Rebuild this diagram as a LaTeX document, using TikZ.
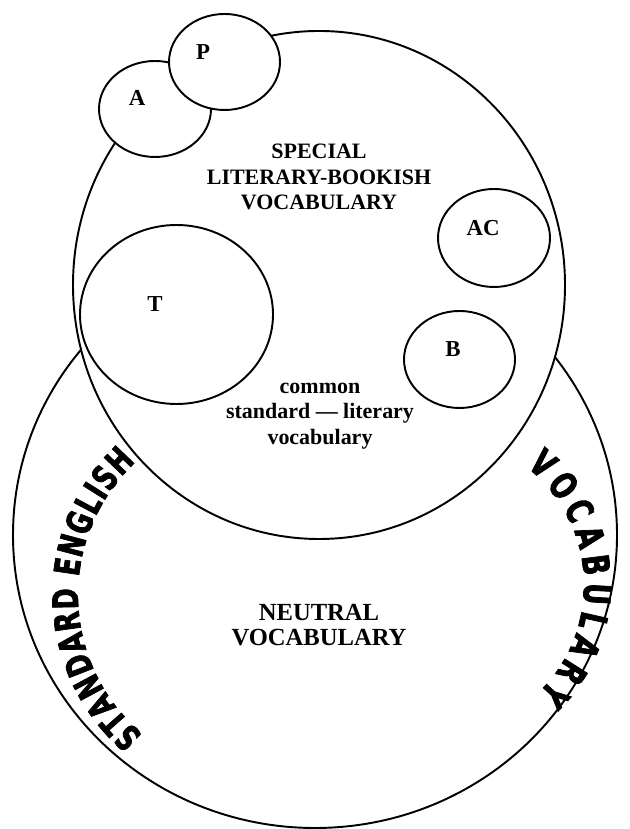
\documentclass[tikz,border=0pt]{standalone}
\usepackage{fontspec}
\setmainfont{Liberation Serif}
\newfontfamily\arcfont{DejaVu Sans Bold}[FakeStretch=0.72,FakeBold=2]
\usetikzlibrary{decorations.text}

\begin{document}
\begin{tikzpicture}[
  ring/.style={draw=black,fill=white,line width=1.1pt},
  letter/.style={font=\fontsize{13}{13}\selectfont\bfseries,inner sep=0pt},
  caption/.style={align=center,font=\fontsize{12.5}{14.5}\selectfont\bfseries,inner sep=0pt},
  neutral/.style={align=center,font=\fontsize{14}{14.5}\selectfont\bfseries,inner sep=0pt}
]
\useasboundingbox (0,0) rectangle (12.58,16.58);
%% Cercles
\draw[ring] (6.30,5.88)  ellipse [x radius=6.04, y radius=5.86];
\draw[ring] (6.38,10.88) ellipse [x radius=4.92, y radius=5.08];
\draw[ring] (3.10,14.40) ellipse [x radius=1.12, y radius=0.96];
\draw[ring] (4.49,15.34) ellipse [x radius=1.11, y radius=0.96];
\draw[ring] (9.88,11.82) ellipse [x radius=1.12, y radius=0.98];
\draw[ring] (9.19,9.39)  ellipse [x radius=1.11, y radius=0.97];
\draw[ring] (3.53,10.29) ellipse [x radius=1.93, y radius=1.79];
%% Lettres
\node[letter] (lA)  at (2.74,14.62) {A};
\node[letter] (lP)  at (4.06,15.54) {P};
\node[letter] (lAC) at (9.66,12.02) {AC};
\node[letter] (lB)  at (9.06,9.60)  {B};
\node[letter] (lT)  at (3.10,10.50) {T};
%% Textes
\node[caption] (special) at (6.38,13.04) {SPECIAL\\LITERARY-BOOKISH\\VOCABULARY};
\node[caption] (common)  at (6.40,8.26)  {common\\standard --- literary\\vocabulary};
\node[neutral] (neutral) at (6.38,4.08)  {NEUTRAL\\VOCABULARY};
%% Textes courbes
\path[decorate,decoration={text along path,text align={fit to path},
  text={|\arcfont\fontsize{20}{20}\selectfont|STANDARD ENGLISH}}]
  (5.20,4.68) ++(230:3.64) arc[start angle=230,end angle=133,radius=3.64];
\path[decorate,decoration={text along path,text align={fit to path},
  text={|\arcfont\fontsize{21}{21}\selectfont|VOCABULARY}}]
  (8.68,4.88) ++(52:3.0) arc[start angle=52,end angle=-46,radius=3.0];
\end{tikzpicture}
\end{document}
